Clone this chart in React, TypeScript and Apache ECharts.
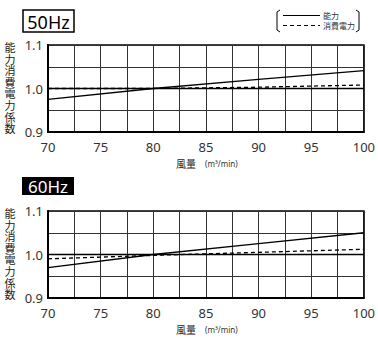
import React, { useEffect, useRef } from "react";
import * as echarts from "echarts";

const airflow = [70, 80, 90, 100];
const capacity50 = [0.975, 1.0, 1.021, 1.041];
const power50 = [1.0, 1.0, 1.003, 1.008];
const capacity60 = [0.97, 1.0, 1.025, 1.05];
const power60 = [0.99, 0.998, 1.005, 1.012];
const yTicks = [0.9, 1.0, 1.1];
const xTicks = [70, 75, 80, 85, 90, 95, 100];
const titles = ["50Hz", "60Hz"];
const legendNames = ["能力", "消費電力"];
const yName = "能力消費電力係数";
const xName = "風量";
const xUnit = "(m³/min)";

const NUM_FONT = "Noto Sans";
const JP_FONT = "Noto Sans CJK JP";

export default function App() {
  const ref = useRef<HTMLDivElement>(null);
  useEffect(() => {
    const chart = echarts.init(ref.current!, null, { renderer: "svg" });
    const gridTops = [45, 211];
    const grids = gridTops.map((t) => ({
      left: 48,
      top: t,
      width: 318,
      height: 87,
      show: true,
      borderColor: "#000",
      borderWidth: 1.5,
    }));
    const xAxes = gridTops.map((_, i) => ({
      type: "value",
      gridIndex: i,
      min: 70,
      max: 100,
      interval: 2.5,
      axisLine: { show: true, lineStyle: { color: "#000", width: 2 } },
      axisTick: { show: false },
      axisLabel: {
        margin: 8,
        fontSize: 13,
        fontFamily: NUM_FONT,
        color: "#333",
        formatter: (v: number) => (xTicks.some((t) => Math.abs(t - v) < 1e-6) ? String(v) : ""),
      },
      splitLine: { show: true, lineStyle: { color: "#333", width: 1 } },
    }));
    const yAxes = gridTops.map((_, i) => ({
      type: "value",
      gridIndex: i,
      min: 0.9,
      max: 1.1,
      interval: 0.05,
      axisLine: { show: true, lineStyle: { color: "#000", width: 2 } },
      axisTick: { show: false },
      axisLabel: {
        margin: 5,
        fontSize: 13,
        fontFamily: NUM_FONT,
        color: "#333",
        formatter: (v: number) => {
          const t = yTicks.find((y) => Math.abs(y - v) < 1e-6);
          return t !== undefined ? t.toFixed(1) : "";
        },
      },
      splitLine: { show: true, lineStyle: { color: "#333", width: 1 } },
    }));
    const mk = (vals: number[], i: number, dashed: boolean, name: string) => ({
      type: "line",
      name,
      xAxisIndex: i,
      yAxisIndex: i,
      data: airflow.map((x, k) => [x, vals[k]]),
      showSymbol: false,
      symbol: "none",
      lineStyle: { color: "#000", width: 1.3, type: dashed ? [4, 3] : "solid" },
      z: 5,
    });
    const one = (i: number) => ({
      type: "line",
      xAxisIndex: i,
      yAxisIndex: i,
      data: [
        [70, 1.0],
        [100, 1.0],
      ],
      symbol: "none",
      lineStyle: { color: "#000", width: 1.5 },
      z: 3,
    });

    const graphic: any[] = [];
    graphic.push({
      type: "rect",
      shape: { x: 23, y: 10, width: 51, height: 22 },
      style: { fill: "#fff", stroke: "#000", lineWidth: 1.5 },
    });
    graphic.push({
      type: "text",
      x: 48.5,
      y: 21.5,
      style: {
        text: titles[0],
        fontSize: 18,
        fontFamily: NUM_FONT,
        fill: "#000",
        align: "center",
        verticalAlign: "middle",
      },
    });
    graphic.push({
      type: "rect",
      shape: { x: 22, y: 177, width: 52, height: 18 },
      style: { fill: "#000" },
    });
    graphic.push({
      type: "text",
      x: 48,
      y: 186.5,
      style: {
        text: titles[1],
        fontSize: 17,
        fontFamily: NUM_FONT,
        fill: "#fff",
        align: "center",
        verticalAlign: "middle",
      },
    });
    graphic.push({
      type: "polyline",
      shape: { points: [[280, 10], [277, 12], [277, 30], [280, 32]] },
      style: { stroke: "#000", lineWidth: 1, fill: "none" },
    });
    graphic.push({
      type: "polyline",
      shape: { points: [[356, 10], [359, 12], [359, 30], [356, 32]] },
      style: { stroke: "#000", lineWidth: 1, fill: "none" },
    });
    graphic.push({
      type: "line",
      shape: { x1: 283, y1: 15.5, x2: 320, y2: 15.5 },
      style: { stroke: "#000", lineWidth: 1.2 },
    });
    graphic.push({
      type: "line",
      shape: { x1: 283, y1: 25.5, x2: 320, y2: 25.5 },
      style: { stroke: "#000", lineWidth: 1.2, lineDash: [4, 3] },
    });
    graphic.push({
      type: "text",
      x: 323,
      y: 15.5,
      style: { text: legendNames[0], fontSize: 8, fontFamily: JP_FONT, fill: "#333", verticalAlign: "middle" },
    });
    graphic.push({
      type: "text",
      x: 323,
      y: 25.5,
      style: { text: legendNames[1], fontSize: 8, fontFamily: JP_FONT, fill: "#333", verticalAlign: "middle" },
    });
    gridTops.forEach((t) => {
      yName.split("").forEach((ch, k) => {
        graphic.push({
          type: "text",
          x: 10,
          y: t + 3 + k * 11.6,
          style: {
            text: ch,
            fontSize: 11,
            lineHeight: 11,
            fontFamily: "'Liberation Sans', 'Noto Sans CJK JP'",
            fill: "#222",
            align: "center",
            verticalAlign: "middle",
          },
        });
      });
      graphic.push({
        type: "text",
        x: 196,
        y: t + 118,
        style: { text: xName, fontSize: 10, fontFamily: JP_FONT, fill: "#222", align: "right", verticalAlign: "middle" },
      });
      graphic.push({
        type: "text",
        x: 205,
        y: t + 118,
        style: { text: xUnit, fontSize: 8, fontFamily: NUM_FONT, fill: "#333", align: "left", verticalAlign: "middle" },
      });
    });

    chart.setOption({
      animation: false,
      backgroundColor: "#fff",
      grid: grids,
      xAxis: xAxes,
      yAxis: yAxes,
      series: [
        one(0),
        mk(capacity50, 0, false, legendNames[0]),
        mk(power50, 0, true, legendNames[1]),
        one(1),
        mk(capacity60, 1, false, legendNames[0]),
        mk(power60, 1, true, legendNames[1]),
      ],
      graphic,
    });
    return () => chart.dispose();
  }, []);
  return <div ref={ref} style={{ width: 378, height: 338, position: "absolute", left: 0, top: 0 }} />;
}
